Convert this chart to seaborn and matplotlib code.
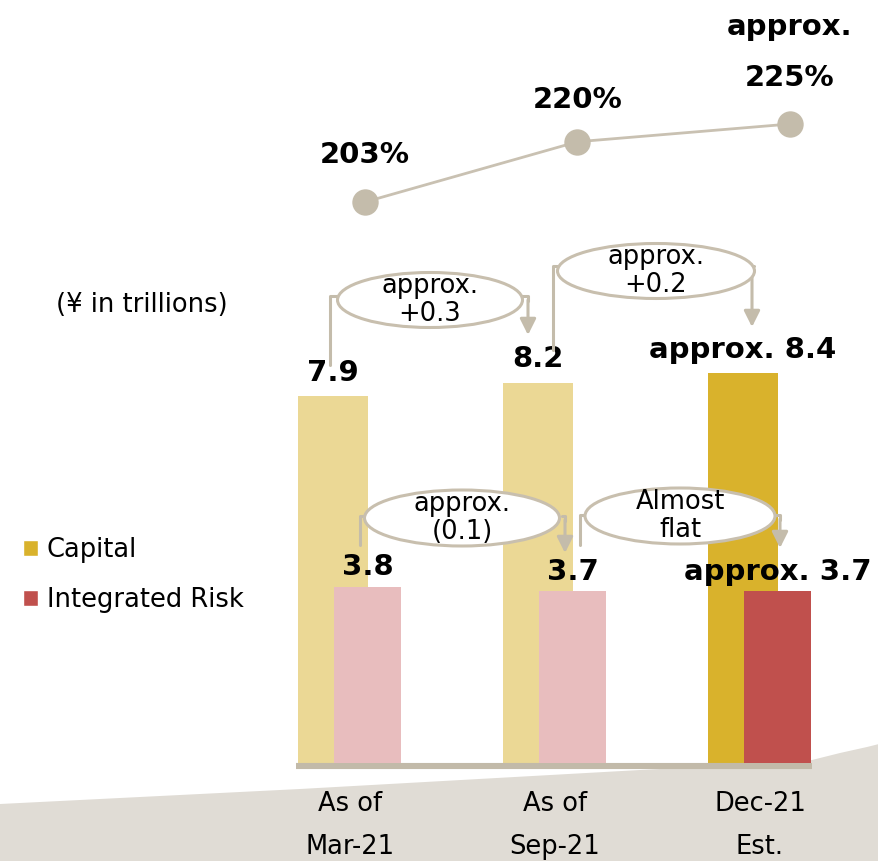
import numpy as np
import seaborn as sns
import matplotlib
matplotlib.use("Agg")
from matplotlib import pyplot as plt
from matplotlib.patches import Ellipse, Patch, Polygon

periods = ["As of\nMar-21", "As of\nSep-21", "Dec-21\nEst."]
capital = [7.9, 8.2, 8.4]
risk = [3.8, 3.7, 3.7]
ratio = [203, 220, 225]
capital_labels = ["7.9", "8.2", "approx. 8.4"]
risk_labels = ["3.8", "3.7", "approx. 3.7"]
ratio_labels = ["203%", "220%", "225%"]
changes_capital = ["approx.\n+0.3", "approx.\n+0.2"]
changes_risk = ["approx.\n(0.1)", "Almost\nflat"]

cap_colors = ["#EBD895", "#EBD895", "#D9B22C"]
risk_colors = ["#E8BDBE", "#E8BDBE", "#C0504D"]
grey = "#C4BCAB"

W, H = 879, 861
PXU = 46.4          # pixels per trillion
SPACING = 205       # pixels between groups

sns.set_theme(style="white")
plt.rcParams["font.family"] = ["DejaVu Sans"]
plt.rcParams["text.color"] = "black"

fig = plt.figure(figsize=(W / 100, H / 100), dpi=100)

# background swoosh
swoosh = [(0, 804), (300, 789), (640, 770), (760, 764), (812, 760), (840, 753),
          (867, 747), (879, 744), (879, 861), (0, 861)]
fig.patches.append(Polygon([(x / W, 1 - y / H) for x, y in swoosh], closed=True,
                           transform=fig.transFigure, facecolor="#E0DCD5",
                           edgecolor="none", zorder=-1))


def axes_at(center_px):
    left = center_px - 0.5 * SPACING
    ax = fig.add_axes([left / W, (H - 763) / H, 3 * SPACING / W, 763 / H])
    ax.patch.set_visible(False)
    for s in ax.spines.values():
        s.set_visible(False)
    return ax


ax_cap = axes_at(333)
ax_risk = axes_at(367.5)
ax_line = axes_at(333)

df = {"period": periods, "capital": capital, "risk": risk}
sns.barplot(x=df["period"], y=df["capital"], hue=df["period"], palette=cap_colors,
            saturation=1, width=0.34, linewidth=0, legend=False, ax=ax_cap)
sns.barplot(x=df["period"], y=df["risk"], hue=df["period"], palette=risk_colors,
            saturation=1, width=0.33, linewidth=0, legend=False, ax=ax_risk)

ymax = 763 / PXU
for ax in (ax_cap, ax_risk):
    ax.set_ylim(0, ymax)
    ax.set_xlim(-0.5, 2.5)
    ax.set_yticks([])
    ax.set_ylabel("")
ax_risk.set_xticks([])

# baseline
ax_cap.plot([-0.18, 2.337], [-3.2 / PXU] * 2, color="#C2BAA9", lw=4.4,
            solid_capstyle="butt", clip_on=False, zorder=5)

ax_cap.set_xticks(np.arange(3) + 17 / SPACING, periods)
ax_cap.tick_params(axis="x", length=0, pad=20, labelsize=18.5, colors="black")
for t in ax_cap.get_xticklabels():
    t.set_linespacing(1.85)

for i, (v, lab) in enumerate(zip(capital, capital_labels)):
    ax_cap.text(i, v + 0.5, lab, ha="center", va="center", fontsize=21,
                fontweight="bold")
for i, (v, lab) in enumerate(zip(risk, risk_labels)):
    ax_risk.text(i, v + 0.42, lab, ha="center", va="center", fontsize=21,
                 fontweight="bold", zorder=10)

# ratio line
ax_line.set_xlim(-(365 - 230.5) * 2 / 425, 2 + (845.5 - 790) * 2 / 425)
ax_line.set_ylim(203 - (763 - 202) / 3.545, 203 + 202 / 3.545)
sns.lineplot(x=[0, 1, 2], y=ratio, ax=ax_line, color="#C9C1B2", lw=2,
             marker="o", markersize=19, markerfacecolor=grey, markeredgewidth=0)
ax_line.set_xticks([])
ax_line.set_yticks([])
offsets = [34, 30, 33]
for i, (v, lab) in enumerate(zip(ratio, ratio_labels)):
    ax_line.annotate(lab, (i, v), xytext=(0, offsets[i]), textcoords="offset points",
                     ha="center", va="center", fontsize=21, fontweight="bold")
ax_line.annotate("approx.", (2, ratio[2]), xytext=(0, 70), textcoords="offset points",
                 ha="center", va="center", fontsize=21, fontweight="bold")

# change callouts (pixel positions of the pptx shapes)
callouts = [
    # text, centre, ellipse w/h, left connector (x, y0, y1, x_end), right connector (x, y0, y1, x_start)
    (changes_capital[0], (430, 300), (185, 55), (330, 365, 296, 337), (528, 296, 335, 522)),
    (changes_capital[1], (656, 271), (197, 55), (553, 350, 266, 557), (752, 266, 327, 754)),
    (changes_risk[0], (462, 518), (195, 56), (360, 545, 516, 366), (565, 516, 553, 562)),
    (changes_risk[1], (680, 516), (190, 56), (580, 545, 515, 585), (780, 515, 548, 775)),
]


def dx(px):
    return (px - 333) / SPACING


def dy(py):
    return (763 - py) / PXU


for text, (cx, cy), (ew, eh), left, right in callouts:
    tr = ax_cap.transData
    lx, ly0, ly1, lx2 = left
    ax_risk.plot([dx(lx), dx(lx), dx(lx2)], [dy(ly0), dy(ly1), dy(ly1)], color=grey,
                 lw=2.2, transform=tr, zorder=20, clip_on=False)
    rx, ry0, ry1, rx2 = right
    ax_risk.plot([dx(rx2), dx(rx), dx(rx)], [dy(ry0), dy(ry0), dy(ry0 + 5)], color=grey,
                 lw=2.2, transform=tr, zorder=20, clip_on=False)
    ax_risk.annotate("", xy=(dx(rx), dy(ry1)), xytext=(dx(rx), dy(ry0 + 4)),
                     xycoords=tr, textcoords=tr,
                     arrowprops=dict(arrowstyle="-|>", color=grey, lw=2.2,
                                     mutation_scale=24, shrinkA=0, shrinkB=0),
                     zorder=20)
    ax_risk.add_patch(Ellipse((dx(cx), dy(cy)), ew / SPACING, eh / PXU, transform=tr,
                              facecolor="white", edgecolor="#C8BFAE", lw=2.2,
                              zorder=21, clip_on=False))
    ax_risk.text(dx(cx), dy(cy), text, transform=tr, ha="center", va="center",
                 fontsize=18.5, linespacing=1.08, zorder=22)

fig.text(142 / W, 1 - 305 / H, "(¥ in trillions)", ha="center", va="center",
         fontsize=18.5)

handles = [Patch(facecolor=cap_colors[2], label="Capital"),
           Patch(facecolor=risk_colors[2], label="Integrated Risk")]
fig.legend(handles=handles, loc="upper left", bbox_to_anchor=(23 / W, 1 - 537 / H),
           frameon=False, fontsize=18.5, handlelength=0.58, handleheight=0.58,
           handletextpad=0.35, labelspacing=0.95, borderaxespad=0, borderpad=0)

fig.savefig("out.png", dpi=100)
